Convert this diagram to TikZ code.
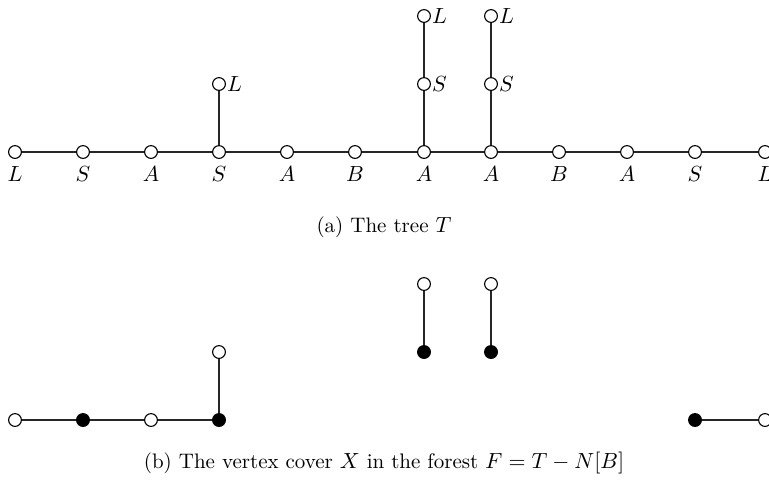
\documentclass[tikz,border=0pt]{standalone}
\begin{document}
\begin{tikzpicture}[x=0.5pt,y=-0.5pt,
  font=\fontsize{10.5}{12.5}\selectfont,
  vtx/.style={circle,draw,fill=white,inner sep=0pt,minimum size=6.4pt,line width=0.55pt},
  blk/.style={circle,draw,fill=black,inner sep=0pt,minimum size=6.4pt,line width=0.55pt},
  edge/.style={line width=0.55pt,draw=black!85}]
\useasboundingbox (0,0) rectangle (769,479);
\begin{scope}
\clip (0,0) rectangle (769,479);
% part (a)
\foreach \i/\x/\l in {1/15/L,2/83/S,3/151/A,4/219/S,5/287/A,6/355/B,7/424/A,8/491/A,9/559/B,10/627/A,11/695/S,12/765/L}{
  \node[vtx,label={[yshift=-0.5pt]below:$\l$}] (a\i) at (\x,152) {};
}
\node[vtx,label={[xshift=-3pt]right:$L$}] (u4) at (219,84) {};
\node[vtx,label={[xshift=-3pt]right:$S$}] (u7) at (424,84) {};
\node[vtx,label={[xshift=-3pt]right:$L$}] (v7) at (424,16) {};
\node[vtx,label={[xshift=-3pt]right:$S$}] (u8) at (491,84) {};
\node[vtx,label={[xshift=-3pt]right:$L$}] (v8) at (491,16) {};
\foreach \i [evaluate=\i as \j using int(\i+1)] in {1,...,11}{
  \draw[edge] (a\i) -- (a\j);
}
\draw[edge] (a4) -- (u4);
\draw[edge] (a7) -- (u7) -- (v7);
\draw[edge] (a8) -- (u8) -- (v8);
\node (capa) at (384,227) {(a) The tree $T$};
% part (b)
\node[vtx] (b1) at (15,420) {};
\node[blk] (b2) at (83,420) {};
\node[vtx] (b3) at (151,420) {};
\node[blk] (b4) at (219,420) {};
\node[vtx] (c4) at (219,352) {};
\node[blk] (b7) at (424,352) {};
\node[vtx] (c7) at (424,284) {};
\node[blk] (b8) at (491,352) {};
\node[vtx] (c8) at (491,284) {};
\node[blk] (b11) at (695,420) {};
\node[vtx] (b12) at (765,420) {};
\draw[edge] (b1) -- (b2) -- (b3) -- (b4) -- (c4);
\draw[edge] (b7) -- (c7);
\draw[edge] (b8) -- (c8);
\draw[edge] (b11) -- (b12);
\node (capb) at (384,463) {(b) The vertex cover $X$ in the forest $F=T-N[B]$};
\end{scope}
\end{tikzpicture}
\end{document}
